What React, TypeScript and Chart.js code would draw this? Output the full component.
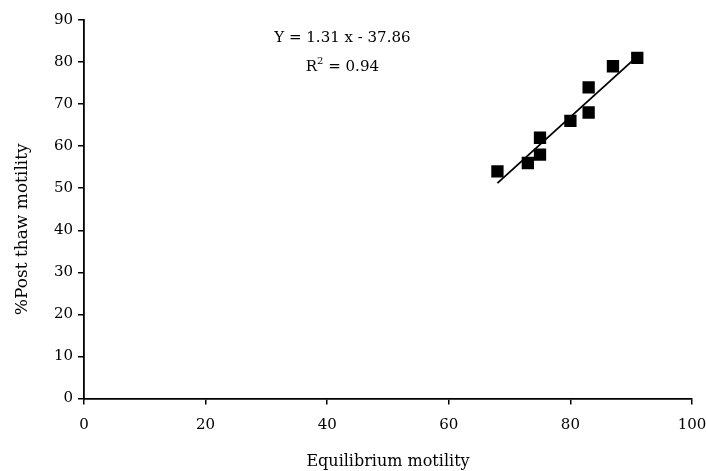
import React, { useEffect, useRef } from "react";
import { Chart, registerables } from "chart.js";

Chart.register(...registerables);

const equilibriumMotility = [68, 73, 75, 75, 80, 83, 83, 87, 91];
const postThawMotility = [54, 56, 58, 62, 66, 68, 74, 79, 81];
const slope = 1.31;
const intercept = -37.86;
const rSquared = 0.94;
const xTicks = [0, 20, 40, 60, 80, 100];
const yTicks = [0, 10, 20, 30, 40, 50, 60, 70, 80, 90];
const xTitle = "Equilibrium motility";
const yTitle = "%Post thaw motility";

const FONT = "'DejaVu Serif', 'Liberation Serif', serif";

export default function App() {
  const ref = useRef<HTMLCanvasElement | null>(null);

  useEffect(() => {
    if (!ref.current) return;
    const xmin = Math.min(...equilibriumMotility);
    const xmax = Math.max(...equilibriumMotility);
    const scatter = equilibriumMotility.map((x, i) => ({ x, y: postThawMotility[i] }));
    const fit = [
      { x: xmin, y: slope * xmin + intercept },
      { x: xmax, y: slope * xmax + intercept },
    ];

    const textPlugin = {
      id: "eqText",
      afterDatasetsDraw(chart: any) {
        const { ctx, scales } = chart;
        const cx = scales.x.getPixelForValue(42.5);
        const y1 = scales.y.getPixelForValue(85.6);
        const y2 = scales.y.getPixelForValue(78.8);
        ctx.save();
        ctx.fillStyle = "#000";
        ctx.font = `15px ${FONT}`;
        ctx.textAlign = "center";
        ctx.textBaseline = "middle";
        const eq = `Y = ${slope.toFixed(2)} x - ${Math.abs(intercept).toFixed(2)}`;
        ctx.fillText(eq, cx, y1);
        const a = "R";
        const b = ` = ${rSquared.toFixed(2)}`;
        const wa = ctx.measureText(a).width;
        const wb = ctx.measureText(b).width;
        ctx.font = `10px ${FONT}`;
        const ws = ctx.measureText("2").width;
        const total = wa + ws + wb;
        const x0 = cx - total / 2;
        ctx.textAlign = "left";
        ctx.font = `15px ${FONT}`;
        ctx.fillText(a, x0, y2);
        ctx.font = `10px ${FONT}`;
        ctx.fillText("2", x0 + wa, y2 - 6);
        ctx.font = `15px ${FONT}`;
        ctx.fillText(b, x0 + wa + ws, y2);

        // y axis title
        const ty = (scales.y.getPixelForValue(0) + scales.y.getPixelForValue(90)) / 2 + 20;
        ctx.translate(23, ty);
        ctx.rotate(-Math.PI / 2);
        ctx.textAlign = "center";
        ctx.font = `17px ${FONT}`;
        ctx.fillText(yTitle, 0, 0);
        ctx.restore();
      },
    };

    const chart = new Chart(ref.current, {
      type: "scatter",
      data: {
        datasets: [
          {
            type: "scatter",
            data: scatter,
            pointStyle: "rect",
            pointRadius: 8.7,
            pointHoverRadius: 8.7,
            backgroundColor: "#000",
            borderWidth: 0,
            order: 2,
          },
          {
            type: "line",
            data: fit,
            borderColor: "#000",
            borderWidth: 1.8,
            pointRadius: 0,
            fill: false,
            order: 1,
          } as any,
        ],
      },
      options: {
        animation: false,
        responsive: false,
        maintainAspectRatio: false,
        layout: { padding: { top: 20, right: 14, left: 0, bottom: 0 } },
        plugins: {
          legend: { display: false },
          tooltip: { enabled: false },
        },
        scales: {
          x: {
            type: "linear",
            min: 0,
            max: 100,
            afterBuildTicks: (s: any) => {
              s.ticks = xTicks.map((v) => ({ value: v }));
            },
            afterFit: (s: any) => {
              s.height = 72.5;
              s.paddingLeft = 0;
              s.paddingRight = 0;
            },
            grid: {
              drawOnChartArea: false,
              drawTicks: true,
              tickLength: 6,
              color: "#000",
              lineWidth: 1.5,
            },
            border: { display: true, color: "#000", width: 1.8 },
            ticks: {
              color: "#000",
              font: { family: FONT, size: 15 },
              padding: 12,
              maxRotation: 0,
            },
            title: {
              display: true,
              text: xTitle,
              color: "#000",
              font: { family: FONT, size: 16 },
              padding: { top: 10, bottom: 0 },
            },
          },
          y: {
            type: "linear",
            min: 0,
            max: 90,
            afterBuildTicks: (s: any) => {
              s.ticks = yTicks.map((v) => ({ value: v }));
            },
            afterFit: (s: any) => {
              s.width = 84;
              s.paddingTop = 0;
              s.paddingBottom = 0;
            },
            grid: {
              drawOnChartArea: false,
              drawTicks: true,
              tickLength: 6,
              color: "#000",
              lineWidth: 1.5,
            },
            border: { display: true, color: "#000", width: 1.8 },
            ticks: {
              color: "#000",
              font: { family: FONT, size: 15 },
              padding: 5,
            },
            title: { display: false },
          },
        },
      },
      plugins: [textPlugin],
    });
    return () => chart.destroy();
  }, []);

  return (
    <div style={{ position: "fixed", left: 0, top: 0, width: 706, height: 471, background: "#fff" }}>
      <canvas ref={ref} width={706} height={471} style={{ width: 706, height: 471, display: "block" }} />
    </div>
  );
}
